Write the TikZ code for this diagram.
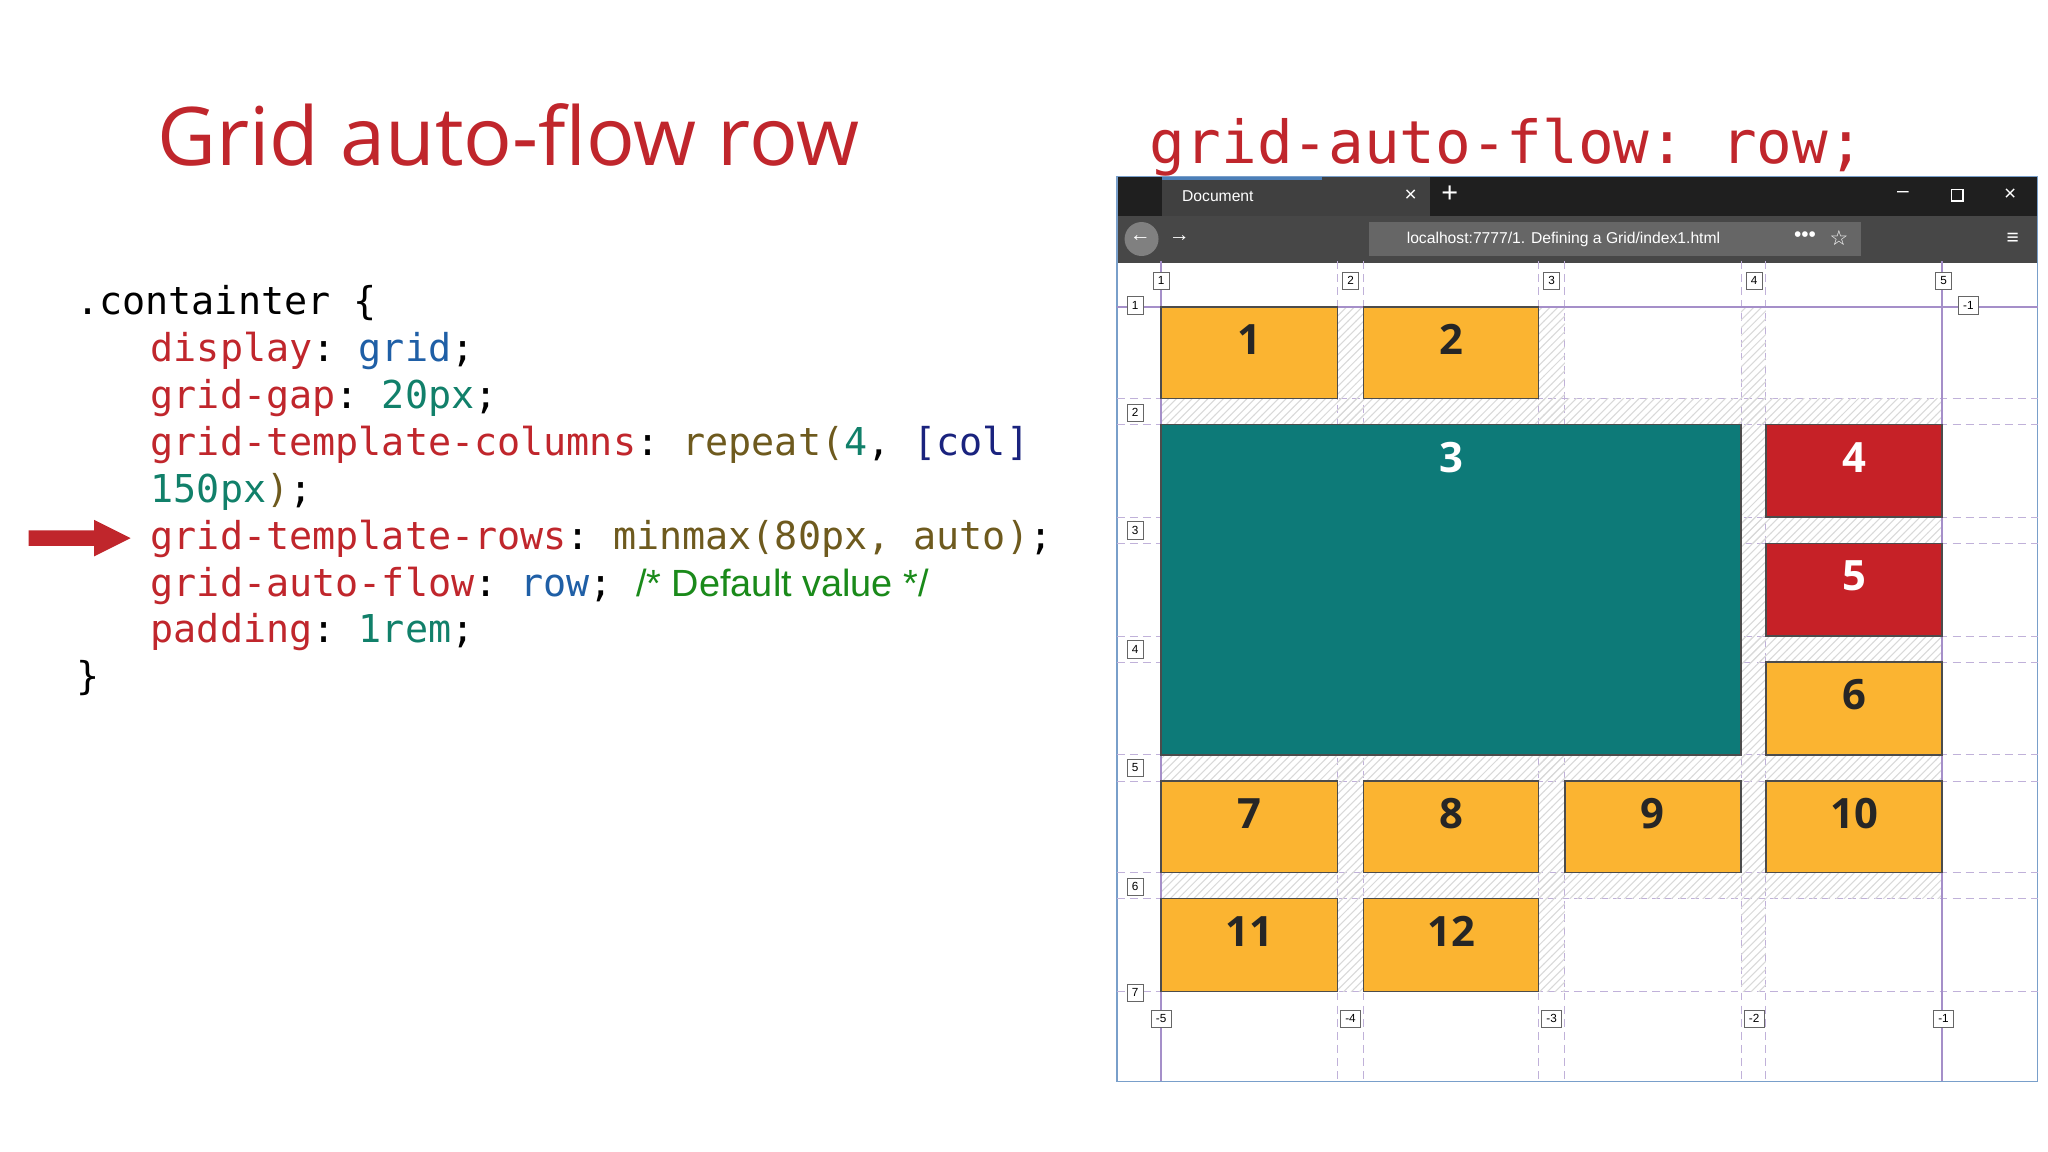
\documentclass[tikz,border=0pt]{standalone}
\usepackage{fontspec}
\setmainfont{Open Sans}
\setmonofont{DejaVu Sans Mono}
\newfontfamily\lib{Liberation Sans}
\newfontfamily\dvs{DejaVu Sans}
\usetikzlibrary{patterns,calc}
\definecolor{tred}{HTML}{C0262C}
\definecolor{vblue}{HTML}{1F5FA6}
\definecolor{vgreen}{HTML}{11806A}
\definecolor{olive}{HTML}{6E5A1E}
\definecolor{navy}{HTML}{1A237E}
\definecolor{cgreen}{HTML}{1A8A1A}
\definecolor{gorange}{HTML}{FBB431}
\definecolor{gred}{HTML}{C62127}
\definecolor{gteal}{HTML}{0D7A78}
\definecolor{gline}{HTML}{A58FC9}
\tikzset{
 code/.style={anchor=base west,inner sep=0,font=\fontsize{14.7}{16}\ttfamily},
 num/.style={font=\fontsize{16}{16}\bfseries\selectfont},
 tag/.style={draw=black!60,fill=white,line width=0.3pt,inner sep=1.8pt,font=\fontsize{4.5}{4.5}\lib},
 gl/.style={gline,line width=0.6pt},
 gd/.style={gline!70,densely dashed,line width=0.4pt},
}
\newcommand\gitem[7]{\fill[#5] (#1,#2) rectangle (#3,#4);
 \draw[black!70,line width=0.6pt] (#1,#2) rectangle (#3,#4);
 \node[num,text=#6] (n#7) at ({(#1+#3)/2},#2+25) {#7};}
\begin{document}
\begin{tikzpicture}[x=0.5pt,y=-0.5pt]
\useasboundingbox (0,0) rectangle (1568,882);
\fill[white] (0,0) rectangle (1568,882);
\node[anchor=base west,inner sep=0,text=tred,font=\fontsize{31}{36}\selectfont] (title) at (120,127) {Grid auto-flow row};
\node[anchor=base west,inner sep=0,text=tred,font=\fontsize{22.7}{26}\ttfamily] (rtitle) at (880,125) {grid-auto-flow: row;};
% code
\node[code] (l1) at (58,241) {.containter \{};
\node[code] (l2) at (115,277) {\textcolor{tred}{display}: \textcolor{vblue}{grid};};
\node[code] (l3) at (115,313) {\textcolor{tred}{grid-gap}: \textcolor{vgreen}{20px};};
\node[code] (l4) at (115,349) {\textcolor{tred}{grid-template-columns}: \textcolor{olive}{repeat(}\textcolor{vgreen}{4}, \textcolor{navy}{[col]}};
\node[code] (l5) at (115,385) {\textcolor{vgreen}{150px}\textcolor{olive}{)};};
\node[code] (l6) at (115,421) {\textcolor{tred}{grid-template-rows}: \textcolor{olive}{minmax(80px, auto)};};
\node[code] (l7) at (115,457) {\textcolor{tred}{grid-auto-flow}: \textcolor{vblue}{row};  \textcolor{cgreen}{\lib\fontsize{14.5}{16}\selectfont /* Default value */}};
\node[code] (l8) at (115,492) {\textcolor{tred}{padding}: \textcolor{vgreen}{1rem};};
\node[code] (l9) at (58,528) {\}};
\fill[tred] (22,406) rectangle (72,418) (72,398) -- (100,412) -- (72,426) -- cycle;
% browser
\fill[white] (855,135) rectangle (1560,828);
\fill[black!88] (855,135) rectangle (1560,165);
\fill[black!75] (890,135) rectangle (1095,165);
\fill[vblue!80] (890,135) rectangle (1012,138);
\fill[black!72] (855,165) rectangle (1560,201);
\fill[black!60] (1048,170) rectangle (1425,196);
\fill[black!50] (874,183) circle (13);
\node[anchor=west,text=white,font=\fontsize{6}{6}\lib] (doc) at (898,150) {Document};
\node[text=white,font=\fontsize{8}{8}\lib] (cls) at (1080,150) {×};
\node[text=white,font=\fontsize{11}{11}\lib] (plus) at (1110,149) {+};
\node[text=white,font=\fontsize{8}{8}\lib] (mn) at (1457,149) {–};
\draw[white,line width=0.5pt] (1494,145) rectangle (1503,154);
\node[text=white,font=\fontsize{8}{8}\lib] (cx) at (1539,149) {×};
\node[anchor=west,font=\fontsize{6}{6}\lib,text=white] (url) at (1070,183) {localhost\textcolor{white!60}{:7777/1. Defining a Grid/index1.html}};
\node[text=white,font=\fontsize{8}{8}\lib] (bk) at (873,183) {←};
\node[text=white!60,font=\fontsize{8}{8}\lib] (fw) at (903,183) {→};
\node[text=white,font=\fontsize{8}{8}\lib] (dots) at (1382,181) {•••};
\node[text=white,font=\fontsize{8}{8}\dvs] (star) at (1408,182) {☆};
\node[text=white,font=\fontsize{8}{8}\lib] (mnu) at (1541,183) {≡};
\draw[vblue!60,line width=0.6pt] (855,135) rectangle (1560,828);
% grid lines
\foreach \y in {305,325,396,416,487,507,578,598,668,688,759} \draw[gd] (855,\y) -- (1560,\y);
\foreach \x in {1024,1044,1178,1198,1333,1352} \draw[gd] (\x,200) -- (\x,828);
\foreach \x/\w in {1024/20,1178/20,1333/19} \fill[pattern=north east lines,pattern color=black!15] (\x,235) rectangle ++(\w,524);
\foreach \y/\h in {305/20,396/20,487/20,578/20,668/20} \fill[pattern=north east lines,pattern color=black!15] (889,\y) rectangle (1487,\y+\h);
\draw[gl] (855,235) -- (1560,235);
\draw[gl] (889,200) -- (889,828);
\draw[gl] (1487,200) -- (1487,828);
% items
\gitem{889}{235}{1024}{305}{gorange}{black!85}{1}
\gitem{1044}{235}{1178}{305}{gorange}{black!85}{2}
\gitem{889}{325}{1333}{578}{gteal}{white}{3}
\gitem{1352}{325}{1487}{396}{gred}{white}{4}
\gitem{1352}{416}{1487}{487}{gred}{white}{5}
\gitem{1352}{507}{1487}{578}{gorange}{black!85}{6}
\gitem{889}{598}{1024}{668}{gorange}{black!85}{7}
\gitem{1044}{598}{1178}{668}{gorange}{black!85}{8}
\gitem{1198}{598}{1333}{668}{gorange}{black!85}{9}
\gitem{1352}{598}{1487}{668}{gorange}{black!85}{10}
\gitem{889}{688}{1024}{759}{gorange}{black!85}{11}
\gitem{1044}{688}{1178}{759}{gorange}{black!85}{12}
% line tags
\foreach \x/\t in {889/1,1034/2,1188/3,1343/4,1488/5} \node[tag] (t\t) at (\x,215) {\t};
\foreach \y/\t in {234/1,316/2,406/3,497/4,588/5,679/6,760/7} \node[tag] (lt\t) at (869,\y) {\t};
\foreach \x/\t in {889/5,1034/4,1188/3,1343/2,1488/1} \node[tag] (bt\t) at (\x,780) {-\t};
\node[tag] (rt1) at (1507,234) {-1};
\end{tikzpicture}
\end{document}
